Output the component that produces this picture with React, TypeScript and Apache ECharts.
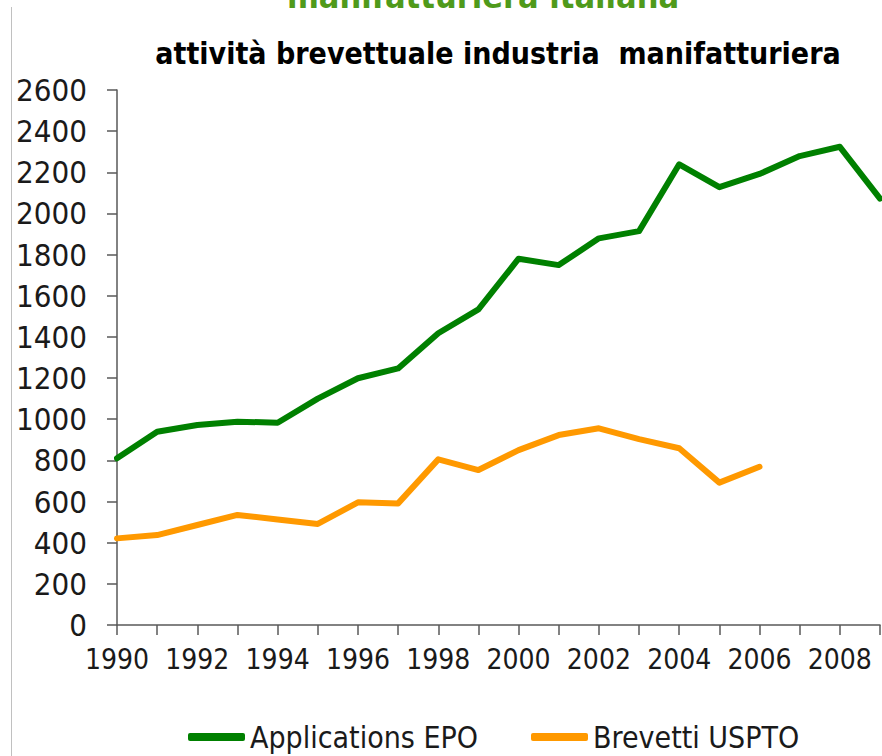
import React, { useEffect, useRef } from "react";
import * as echarts from "echarts";

const years = [
  "1990", "1991", "1992", "1993", "1994", "1995", "1996", "1997", "1998", "1999",
  "2000", "2001", "2002", "2003", "2004", "2005", "2006", "2007", "2008", "2009",
];
const applicationsEPO = [
  810, 939, 972, 988, 983, 1100, 1199, 1247, 1418, 1534,
  1780, 1749, 1879, 1914, 2239, 2128, 2192, 2279, 2324, 2072,
];
const brevettiUSPTO = [
  421, 437, 486, 535, 513, 491, 596, 591, 805, 753,
  850, 923, 956, 903, 859, 692, 769, null, null, null,
];
const topTitle = "manifatturiera italiana";
const subTitle = "attività brevettuale industria  manifatturiera";

export default function App() {
  const ref = useRef<HTMLDivElement>(null);
  useEffect(() => {
    if (!ref.current) return;
    const chart = echarts.init(ref.current, null, { renderer: "svg" });
    const axisColor = "#595959";
    chart.setOption({
      animation: false,
      backgroundColor: "#ffffff",
      graphic: [
        {
          type: "line",
          shape: { x1: 11.5, y1: 7, x2: 11.5, y2: 756 },
          style: { stroke: "#c0c0c0", lineWidth: 1 },
        },
        {
          type: "text",
          x: 483,
          y: -4,
          style: {
            text: topTitle,
            fill: "#4f9a1b",
            font: "bold 34px 'DejaVu Sans Condensed'",
            align: "center",
            verticalAlign: "middle",
          },
        },
        {
          type: "text",
          x: 498,
          y: 53,
          style: {
            text: subTitle,
            fill: "#000000",
            font: "bold 30px 'DejaVu Sans Condensed'",
            align: "center",
            verticalAlign: "middle",
          },
        },
      ],
      grid: { left: 117, right: 2, top: 90, bottom: 131, containLabel: false },
      legend: {
        left: 183,
        top: 717,
        icon: "roundRect",
        itemWidth: 57,
        itemHeight: 8,
        itemGap: 53,
        textStyle: {
          fontFamily: "'DejaVu Sans Condensed'",
          fontSize: 30,
          color: "#1a1a1a",
        },
        data: ["Applications EPO", "Brevetti USPTO"],
      },
      xAxis: {
        type: "category",
        data: years,
        boundaryGap: false,
        axisLine: { lineStyle: { color: axisColor, width: 1.5 } },
        axisTick: { show: true, interval: 0, length: 10, lineStyle: { color: axisColor, width: 1.5 } },
        axisLabel: {
          interval: 1,
          margin: 20,
          fontFamily: "'DejaVu Sans Condensed'",
          fontSize: 28,
          color: "#1a1a1a",
        },
        splitLine: { show: false },
      },
      yAxis: {
        type: "value",
        min: 0,
        max: 2600,
        interval: 200,
        axisLine: { show: true, lineStyle: { color: axisColor, width: 1.5 } },
        axisTick: { show: true, length: 10, lineStyle: { color: axisColor, width: 1.5 } },
        axisLabel: {
          margin: 30,
          fontFamily: "'DejaVu Sans Condensed'",
          fontSize: 31,
          color: "#1a1a1a",
          formatter: (v: number) => String(v),
        },
        splitLine: { show: false },
      },
      series: [
        {
          name: "Applications EPO",
          type: "line",
          data: applicationsEPO,
          showSymbol: false,
          symbol: "none",
          color: "#008000",
          lineStyle: { color: "#008000", width: 6, cap: "round", join: "round" },
        },
        {
          name: "Brevetti USPTO",
          type: "line",
          data: brevettiUSPTO,
          showSymbol: false,
          symbol: "none",
          color: "#ff9900",
          lineStyle: { color: "#ff9900", width: 6, cap: "round", join: "round" },
        },
      ],
    });
    return () => chart.dispose();
  }, []);
  return <div ref={ref} style={{ width: 882, height: 756, position: "absolute", left: 0, top: 0 }} />;
}
